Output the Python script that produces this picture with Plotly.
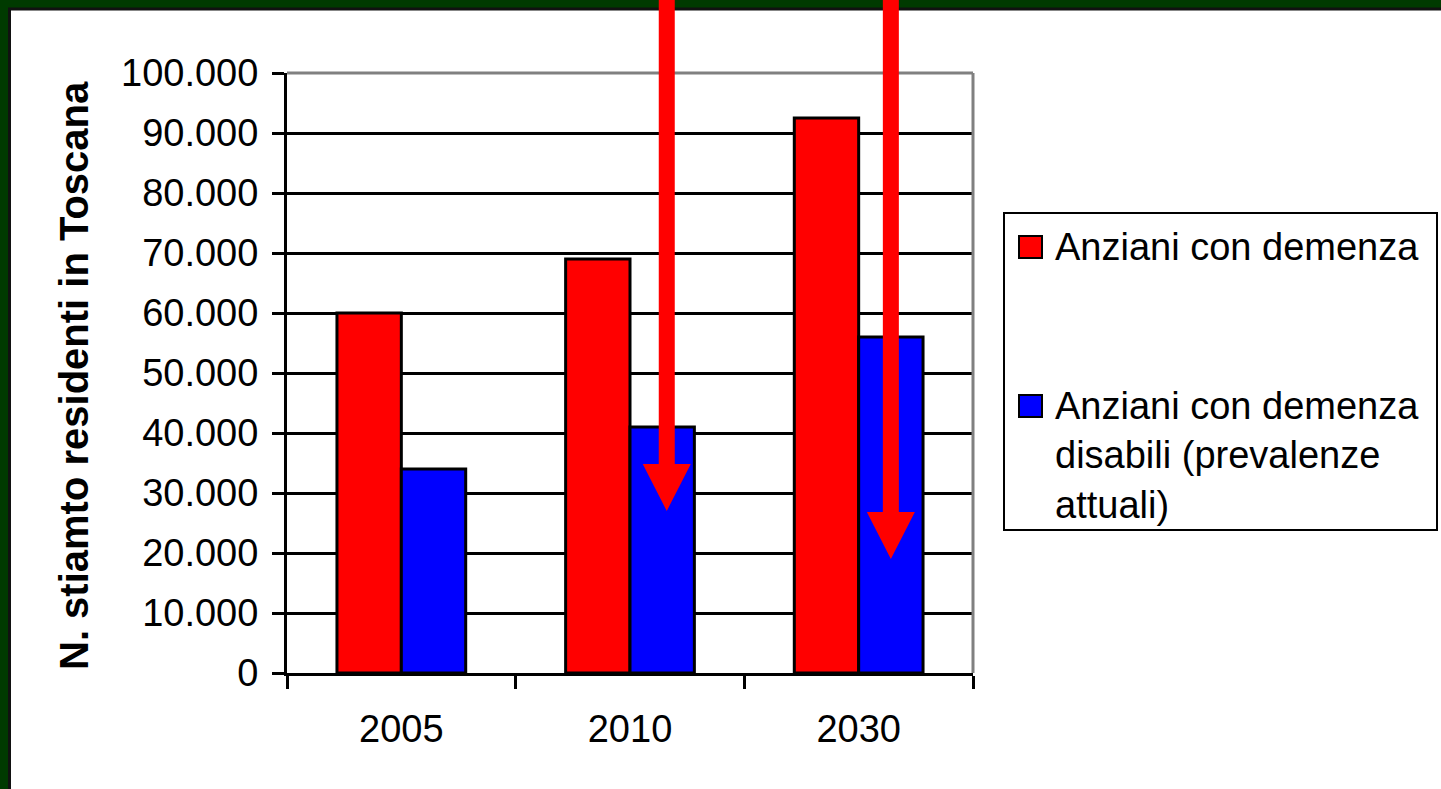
import plotly.graph_objects as go

# ---- data ----
years = ["2005", "2010", "2030"]
series_names = [
    "Anziani con demenza",
    "Anziani con demenza<br>disabili (prevalenze<br>attuali)",
]
anziani_demenza = [60000, 69000, 92500]
anziani_disabili = [34000, 41000, 56000]
y_title = "N. stiamto residenti in Toscana"

# arrows pointing down onto the "disabili" bars
arrow_years = ["2010", "2030"]
arrow_tips = [27000, 19000]

# ---- layout geometry (pixels) ----
W, H = 1441, 789
L, R, T, B = 287, 468, 73, 116
PW, PH = W - L - R, H - T - B
FONT = "Liberation Sans"
BARGAP = 0.437


def px(xp):
    return (xp - L) / PW


def py(yp):
    return (H - B - yp) / PH


def cat_to_paper(idx, offset=0.0):
    return (idx + 0.5 + offset) / len(years)


fig = go.Figure()
fig.add_trace(go.Bar(x=years, y=anziani_demenza, name=series_names[0],
                     marker=dict(color="#ff0000", line=dict(color="black", width=3))))
fig.add_trace(go.Bar(x=years, y=anziani_disabili, name=series_names[1],
                     marker=dict(color="#0000ff", line=dict(color="black", width=3))))

shapes = []
# dark green frame on top and left edges
shapes.append(dict(type="rect", xref="paper", yref="paper", x0=px(0), x1=px(W), y0=py(0), y1=py(8),
                   fillcolor="#003a00", line=dict(width=0), layer="above"))
shapes.append(dict(type="rect", xref="paper", yref="paper", x0=px(0), x1=px(8), y0=py(0), y1=py(H),
                   fillcolor="#003a00", line=dict(width=0), layer="above"))
shapes.append(dict(type="line", xref="paper", yref="paper", x0=px(8), x1=px(W), y0=py(9), y1=py(9),
                   line=dict(color="#111111", width=3), layer="above"))
shapes.append(dict(type="line", xref="paper", yref="paper", x0=px(9.5), x1=px(9.5), y0=py(8), y1=py(H),
                   line=dict(color="#111111", width=3), layer="above"))

# grey top/right border of the plot area
shapes.append(dict(type="line", xref="paper", yref="paper", x0=0, x1=1, y0=1, y1=1,
                   line=dict(color="#808080", width=3), layer="above"))
shapes.append(dict(type="line", xref="paper", yref="paper", x0=1, x1=1, y0=0, y1=1,
                   line=dict(color="#808080", width=3), layer="above"))

# legend box
shapes.append(dict(type="rect", xref="paper", yref="paper", x0=px(1004), x1=px(1437), y0=py(530), y1=py(213),
                   line=dict(color="black", width=2), fillcolor="rgba(0,0,0,0)", layer="above"))
shapes.append(dict(type="rect", xref="paper", yref="paper", x0=px(1019), x1=px(1042), y0=py(258), y1=py(236),
                   line=dict(color="black", width=2), fillcolor="#ff0000", layer="above"))
shapes.append(dict(type="rect", xref="paper", yref="paper", x0=px(1019), x1=px(1042), y0=py(417), y1=py(395),
                   line=dict(color="black", width=2), fillcolor="#0000ff", layer="above"))

# red arrows
y_max = 100000
blue_offset = (1 - BARGAP) / 4
arrow_shift = [0.02, 0.0]
shaft_hw = 8 / PW
head_hw = 24 / PW
head_len = 47 / PH
top_y = py(0)
for yr, tip, sh in zip(arrow_years, arrow_tips, arrow_shift):
    cx = cat_to_paper(years.index(yr), blue_offset + sh)
    ty = tip / y_max
    hy = ty + head_len
    path = (f"M{cx - shaft_hw},{top_y} L{cx + shaft_hw},{top_y} L{cx + shaft_hw},{hy} "
            f"L{cx + head_hw},{hy} L{cx},{ty} L{cx - head_hw},{hy} L{cx - shaft_hw},{hy} Z")
    shapes.append(dict(type="path", xref="paper", yref="paper", path=path,
                       fillcolor="#ff0000", line=dict(width=0), layer="above"))

annotations = [
    dict(text=series_names[0], xref="paper", yref="paper", x=px(1053), y=py(247),
         xanchor="left", yanchor="middle", showarrow=False, align="left",
         font=dict(family=FONT, size=38, color="black")),
    dict(text=series_names[1], xref="paper", yref="paper", x=px(1053), y=py(455),
         xanchor="left", yanchor="middle", showarrow=False, align="left",
         font=dict(family=FONT, size=38, color="black")),
    dict(text=f"<b>{y_title}</b>", xref="paper", yref="paper", x=px(74), y=py(376),
         xanchor="center", yanchor="middle", showarrow=False, textangle=-90,
         font=dict(family=FONT, size=40, color="black")),
]

fig.update_layout(
    width=W, height=H,
    margin=dict(l=L, r=R, t=T, b=B),
    paper_bgcolor="white", plot_bgcolor="white",
    barmode="group", bargap=BARGAP, bargroupgap=0,
    showlegend=False,
    separators=",.",
    font=dict(family=FONT, size=38, color="black"),
    shapes=shapes,
    annotations=annotations,
)
fig.update_xaxes(
    type="category", range=[-0.5, 2.5],
    showline=True, linecolor="black", linewidth=3,
    ticks="outside", tickson="boundaries", ticklen=13, tickwidth=3, tickcolor="black",
    ticklabelstandoff=20,
    tickfont=dict(family=FONT, size=38, color="black"),
    showgrid=False,
)
fig.update_yaxes(
    range=[0, 100000], dtick=10000, tickformat=",d",
    showline=True, linecolor="black", linewidth=3,
    ticks="outside", ticklen=12, tickwidth=3, tickcolor="black",
    ticklabelstandoff=6,
    tickfont=dict(family=FONT, size=38, color="black"),
    showgrid=True, gridcolor="black", gridwidth=3,
    zeroline=False,
)

fig.write_html("out.html")
